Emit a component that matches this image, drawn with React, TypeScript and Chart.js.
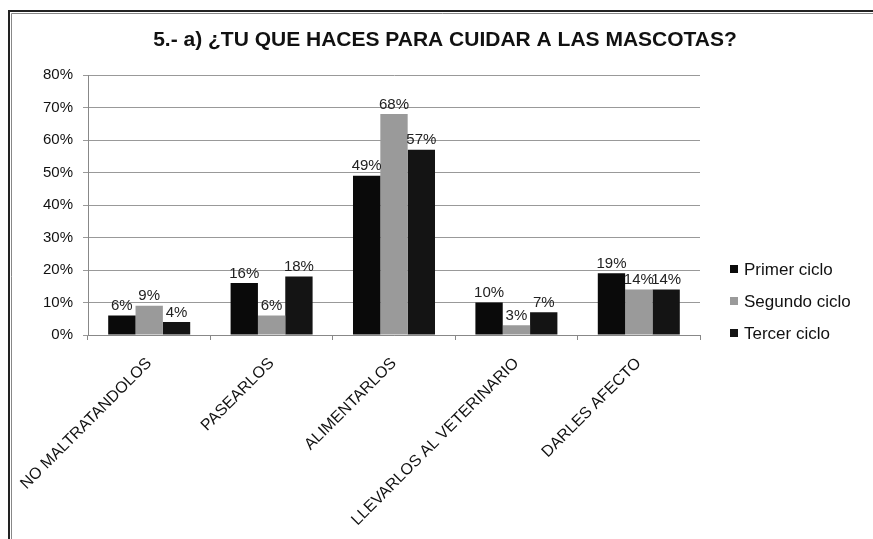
import React, { useEffect, useRef } from "react";
import { Chart, registerables } from "chart.js";

Chart.register(...registerables);

const TITLE = "5.- a) ¿TU QUE HACES PARA CUIDAR A LAS MASCOTAS?";
const categories = [
  "NO MALTRATANDOLOS",
  "PASEARLOS",
  "ALIMENTARLOS",
  "LLEVARLOS AL VETERINARIO",
  "DARLES AFECTO",
];
const seriesNames = ["Primer ciclo", "Segundo ciclo", "Tercer ciclo"];
const primerCiclo = [6, 16, 49, 10, 19];
const segundoCiclo = [9, 6, 68, 3, 14];
const tercerCiclo = [4, 18, 57, 7, 14];
const seriesColors = ["#0a0a0a", "#9a9a9a", "#141414"];
const yTicks = [0, 10, 20, 30, 40, 50, 60, 70, 80];

const W = 873;
const H = 539;

const decorPlugin = {
  id: "decor",
  beforeDraw(chart: any) {
    const ctx = chart.ctx;
    ctx.save();
    ctx.fillStyle = "#ffffff";
    ctx.fillRect(0, 0, chart.width, chart.height);
    // frame
    ctx.strokeStyle = "#222";
    ctx.lineWidth = 2;
    ctx.beginPath();
    ctx.moveTo(9, H);
    ctx.lineTo(9, 11);
    ctx.lineTo(W, 11);
    ctx.stroke();
    ctx.strokeStyle = "#888";
    ctx.lineWidth = 1;
    ctx.beginPath();
    ctx.moveTo(11.5, H);
    ctx.lineTo(11.5, 13.5);
    ctx.lineTo(W, 13.5);
    ctx.stroke();
    ctx.restore();
  },
  afterDraw(chart: any) {
    const ctx = chart.ctx;
    ctx.save();
    // title
    ctx.fillStyle = "#111";
    ctx.font = "bold 21px 'Liberation Sans', Arial, sans-serif";
    ctx.textAlign = "center";
    ctx.textBaseline = "middle";
    ctx.fillText(TITLE, 445, 40);
    // legend
    const rows = [269, 301, 333];
    ctx.font = "17px 'Liberation Sans', Arial, sans-serif";
    ctx.textAlign = "left";
    seriesNames.forEach((name, i) => {
      ctx.fillStyle = seriesColors[i];
      ctx.fillRect(730, rows[i] - 4, 8, 8);
      ctx.fillStyle = "#111";
      ctx.fillText(name, 744, rows[i] + 1);
    });
    ctx.restore();
  },
  afterDatasetsDraw(chart: any) {
    const ctx = chart.ctx;
    ctx.save();
    ctx.font = "15px 'Liberation Sans', Arial, sans-serif";
    ctx.fillStyle = "#222";
    ctx.textAlign = "center";
    ctx.textBaseline = "bottom";
    chart.data.datasets.forEach((ds: any, di: number) => {
      const meta = chart.getDatasetMeta(di);
      meta.data.forEach((el: any, i: number) => {
        ctx.fillText(ds.data[i] + "%", el.x, el.y - 2);
      });
    });
    ctx.restore();
  },
};

export default function App() {
  const ref = useRef<HTMLCanvasElement | null>(null);
  useEffect(() => {
    document.body.style.margin = "0";
    const data = [primerCiclo, segundoCiclo, tercerCiclo];
    const chart = new Chart(ref.current as HTMLCanvasElement, {
      type: "bar",
      data: {
        labels: categories,
        datasets: seriesNames.map((n, i) => ({
          label: n,
          data: data[i],
          backgroundColor: seriesColors[i],
          borderWidth: 0,
          categoryPercentage: 0.67,
          barPercentage: 1,
        })),
      },
      options: {
        animation: false,
        responsive: false,
        devicePixelRatio: 1,
        layout: { padding: { left: 0, right: W - 700, top: 75, bottom: 0 } },
        plugins: {
          legend: { display: false },
          title: { display: false },
          tooltip: { enabled: false },
        },
        scales: {
          x: {
            offset: true,
            grid: {
              offset: true,
              drawOnChartArea: false,
              tickLength: 5,
              color: "#888",
            },
            border: { color: "#888" },
            ticks: {
              maxRotation: 45,
              minRotation: 45,
              padding: 14,
              color: "#111",
              font: { size: 16, family: "'Liberation Sans', Arial, sans-serif" },
            },
            afterFit(scale: any) {
              scale.height = H - 335;
            },
          },
          y: {
            min: 0,
            max: 80,
            afterBuildTicks(scale: any) {
              scale.ticks = yTicks.map((v) => ({ value: v }));
            },
            grid: { color: "#999", tickLength: 5 },
            border: { color: "#888" },
            ticks: {
              padding: 10,
              color: "#111",
              font: { size: 15, family: "'Liberation Sans', Arial, sans-serif" },
              callback: (v: any) => v + "%",
            },
            afterFit(scale: any) {
              scale.width = 88;
            },
          },
        },
      },
      plugins: [decorPlugin],
    } as any);
    return () => chart.destroy();
  }, []);
  return <canvas ref={ref} width={W} height={H} style={{ display: "block" }} />;
}
